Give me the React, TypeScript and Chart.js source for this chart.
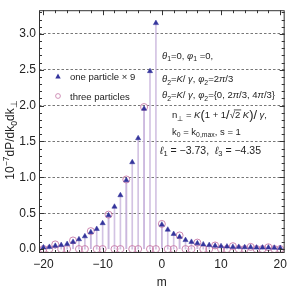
import React, { useEffect, useRef } from "react";
import { Chart, registerables } from "chart.js";
Chart.register(...registerables);

const mValues = [-20, -19, -18, -17, -16, -15, -14, -13, -12, -11, -10, -9, -8, -7, -6, -5, -4, -3, -2, -1, 0, 1, 2, 3, 4, 5, 6, 7, 8, 9, 10, 11, 12, 13, 14, 15, 16, 17, 18, 19, 20];
const oneParticleX9 = [0.023, 0.03, 0.045, 0.055, 0.07, 0.1, 0.136, 0.177, 0.236, 0.28, 0.36, 0.47, 0.59, 0.75, 0.96, 1.21, 1.545, 1.955, 2.48, 3.15, 0.34, 0.27, 0.21, 0.17, 0.125, 0.1, 0.08, 0.065, 0.055, 0.045, 0.04, 0.035, 0.03, 0.03, 0.025, 0.025, 0.02, 0.02, 0.02, 0.018, 0.015];
const threeParticles = [0, 0, 0.065, 0, 0, 0.12, 0, 0, 0.25, 0, 0, 0.48, 0, 0, 0.97, 0, 0, 1.98, 0, 0, 0.35, 0, 0, 0.19, 0, 0, 0.09, 0, 0, 0.05, 0, 0, 0.04, 0, 0, 0.03, 0, 0, 0.025, 0, 0];
const xTicks = [-20, -10, 0, 10, 20];
const yTicks = [0, 0.5, 1, 1.5, 2, 2.5, 3];

const FONT = "'Liberation Sans', Arial, sans-serif";
const TEXT = "#222";
const NAVY = "#34349c";
const PINK = "#c77aa8";
const STEM = "rgba(200,180,220,0.8)";

type Seg = { t: string; i?: boolean; sub?: boolean; sup?: boolean; ov?: boolean; big?: boolean };

function drawRich(ctx: CanvasRenderingContext2D, x: number, y: number, segs: Seg[], size: number) {
  let cx = x;
  for (const s of segs) {
    const fs = s.sub || s.sup ? size * 0.72 : s.big ? size * 1.35 : size;
    ctx.font = `${s.i ? "italic " : ""}${fs}px ${FONT}`;
    const dy = s.sub ? size * 0.28 : s.sup ? -size * 0.42 : s.big ? size * 0.1 : 0;
    ctx.fillText(s.t, cx, y + dy);
    const w = ctx.measureText(s.t).width;
    if (s.ov) {
      ctx.beginPath();
      ctx.lineWidth = 0.8;
      ctx.strokeStyle = TEXT;
      ctx.moveTo(cx - 1, y - size * 0.85);
      ctx.lineTo(cx + w + 1, y - size * 0.85);
      ctx.stroke();
    }
    cx += w;
  }
  return cx;
}

const decorPlugin = {
  id: "decor",
  afterDraw(chart: any) {
    const ctx: CanvasRenderingContext2D = chart.ctx;
    const { left, right, top, bottom } = chart.chartArea;
    const xs = chart.scales.x;
    const ys = chart.scales.y;
    ctx.save();
    ctx.strokeStyle = "#333";
    ctx.lineWidth = 1;
    ctx.setLineDash([]);
    ctx.strokeRect(left + 0.5, top + 0.5, right - left - 1, bottom - top - 1);
    ctx.beginPath();
    for (let v = -20; v <= 20; v += 2) {
      const px = Math.round(xs.getPixelForValue(v)) + 0.5;
      const len = v % 10 === 0 ? 5 : 3;
      ctx.moveTo(px, bottom);
      ctx.lineTo(px, bottom - len);
      ctx.moveTo(px, top);
      ctx.lineTo(px, top + len);
    }
    for (let k = 0; k <= 33; k++) {
      const v = k / 10;
      const py = Math.round(ys.getPixelForValue(v)) + 0.5;
      const len = k % 5 === 0 ? 5 : 3;
      ctx.moveTo(left, py);
      ctx.lineTo(left + len, py);
      ctx.moveTo(right, py);
      ctx.lineTo(right - len, py);
    }
    ctx.stroke();

    ctx.textBaseline = "alphabetic";
    ctx.textAlign = "left";
    ctx.fillStyle = NAVY;
    ctx.beginPath();
    ctx.moveTo(58, 73.5);
    ctx.lineTo(60.7, 78.5);
    ctx.lineTo(55.3, 78.5);
    ctx.closePath();
    ctx.fill();
    ctx.strokeStyle = PINK;
    ctx.lineWidth = 0.8;
    ctx.beginPath();
    ctx.arc(58, 96, 2.4, 0, Math.PI * 2);
    ctx.stroke();
    ctx.fillStyle = TEXT;
    ctx.font = `9.5px ${FONT}`;
    ctx.fillText("one particle \u00d7 9", 70, 79.5);
    ctx.fillText("three particles", 70, 99.5);

    const s = 9.5;
    drawRich(ctx, 162, 58.5, [
      { t: "\u03b8", i: true }, { t: "1", sub: true }, { t: "=0, " },
      { t: "\u03c6", i: true }, { t: "1", sub: true }, { t: " =0," },
    ], s);
    drawRich(ctx, 162, 82, [
      { t: "\u03b8", i: true }, { t: "2", sub: true }, { t: "=" }, { t: "K", i: true }, { t: "/ " },
      { t: "\u03b3", i: true }, { t: ", " }, { t: "\u03c6", i: true }, { t: "2", sub: true },
      { t: "=2" }, { t: "\u03c0", i: true }, { t: "/3" },
    ], s);
    drawRich(ctx, 162, 98, [
      { t: "\u03b8", i: true }, { t: "2", sub: true }, { t: "=" }, { t: "K", i: true }, { t: "/ " },
      { t: "\u03b3", i: true }, { t: ", " }, { t: "\u03c6", i: true }, { t: "2", sub: true },
      { t: "={0, 2" }, { t: "\u03c0", i: true }, { t: "/3, 4" }, { t: "\u03c0", i: true }, { t: "/3}" },
    ], s);
    drawRich(ctx, 172, 118, [
      { t: "n" }, { t: "\u22a5", sub: true }, { t: " = " }, { t: "K", i: true }, { t: "(", big: true },
      { t: "1 + 1" }, { t: "/", big: true }, { t: "\u221a" }, { t: "2", ov: true }, { t: " " },
      { t: "K", i: true }, { t: ")", big: true }, { t: "/", big: true }, { t: " " },
      { t: "\u03b3", i: true }, { t: "," },
    ], s);
    drawRich(ctx, 172, 134.5, [
      { t: "k" }, { t: "0", sub: true }, { t: " = k" }, { t: "0,max", sub: true }, { t: ", s = 1" },
    ], s);
    drawRich(ctx, 160, 153.5, [
      { t: "\u2113", i: true }, { t: "1", sub: true }, { t: " = \u22123.73,  " },
      { t: "\u2113", i: true }, { t: "3", sub: true }, { t: " = \u22124.35" },
    ], 10.5);

    ctx.save();
    ctx.translate(14, 140);
    ctx.rotate(-Math.PI / 2);
    const ts = 12;
    const segs: Seg[] = [
      { t: "10" }, { t: "\u22127", sup: true }, { t: "dP/dk" }, { t: "0", sub: true }, { t: "dk" }, { t: "\u22a5", sub: true },
    ];
    let w = 0;
    for (const sg of segs) {
      ctx.font = `${sg.sub || sg.sup ? ts * 0.72 : ts}px ${FONT}`;
      w += ctx.measureText(sg.t).width;
    }
    drawRich(ctx, -w / 2, 0, segs, ts);
    ctx.restore();
    ctx.restore();
  },
};

export default function App() {
  const ref = useRef<HTMLCanvasElement>(null);
  useEffect(() => {
    document.body.style.margin = "0";
    const pts = (arr: number[]) => mValues.map((m, i) => ({ x: m, y: arr[i] }));
    const chart = new Chart(ref.current as HTMLCanvasElement, {
      type: "scatter",
      data: {
        datasets: [
          { type: "bar", data: pts(oneParticleX9), backgroundColor: STEM, barThickness: 1, grouped: false, order: 5 } as any,
          { type: "bar", data: pts(threeParticles), backgroundColor: STEM, barThickness: 1, grouped: false, order: 4 } as any,
          {
            data: pts(threeParticles),
            pointStyle: "circle",
            pointRadius: 3.5,
            borderColor: PINK,
            borderWidth: 0.9,
            backgroundColor: "rgba(0,0,0,0)",
            order: 2,
          },
          {
            data: pts(oneParticleX9),
            pointStyle: "triangle",
            pointRadius: 3,
            borderColor: NAVY,
            borderWidth: 0.5,
            backgroundColor: NAVY,
            order: 1,
          },
        ],
      },
      options: {
        animation: false,
        responsive: false,
        devicePixelRatio: 1,
        layout: { padding: { top: 5, right: 3, left: 0, bottom: 0 } },
        plugins: { legend: { display: false }, tooltip: { enabled: false } },
        scales: {
          x: {
            type: "linear",
            min: -20.75,
            max: 20.75,
            offset: false,
            afterBuildTicks: (sc: any) => {
              sc.ticks = xTicks.map((v) => ({ value: v }));
            },
            afterFit: (sc: any) => {
              sc.height = 37;
            },
            grid: { display: false, drawTicks: false },
            border: { display: false },
            ticks: {
              padding: 4,
              color: TEXT,
              font: { family: FONT, size: 12 },
              callback: (v: any) => String(v).replace("-", "\u2212"),
            },
            title: {
              display: true,
              text: "m",
              color: TEXT,
              font: { family: FONT, size: 12 },
              padding: { top: 4, bottom: 0 },
            },
          },
          y: {
            type: "linear",
            min: -0.055,
            max: 3.33,
            afterBuildTicks: (sc: any) => {
              sc.ticks = yTicks.map((v) => ({ value: v }));
            },
            afterFit: (sc: any) => {
              sc.width = 39;
            },
            grid: {
              drawTicks: false,
              lineWidth: 1,
              color: (c: any) => (c.tick && c.tick.value === 0 ? "rgba(0,0,0,0)" : "#777"),
            },
            border: { display: false, dash: [2.5, 2] },
            ticks: {
              padding: 3,
              color: TEXT,
              font: { family: FONT, size: 12 },
              callback: (v: any) => Number(v).toFixed(1),
            },
          },
        },
      },
      plugins: [decorPlugin],
    } as any);
    return () => chart.destroy();
  }, []);
  return (
    <div style={{ position: "absolute", left: 0, top: 0, width: 291, height: 290 }}>
      <canvas ref={ref} width={291} height={290} style={{ width: 291, height: 290 }} />
    </div>
  );
}
